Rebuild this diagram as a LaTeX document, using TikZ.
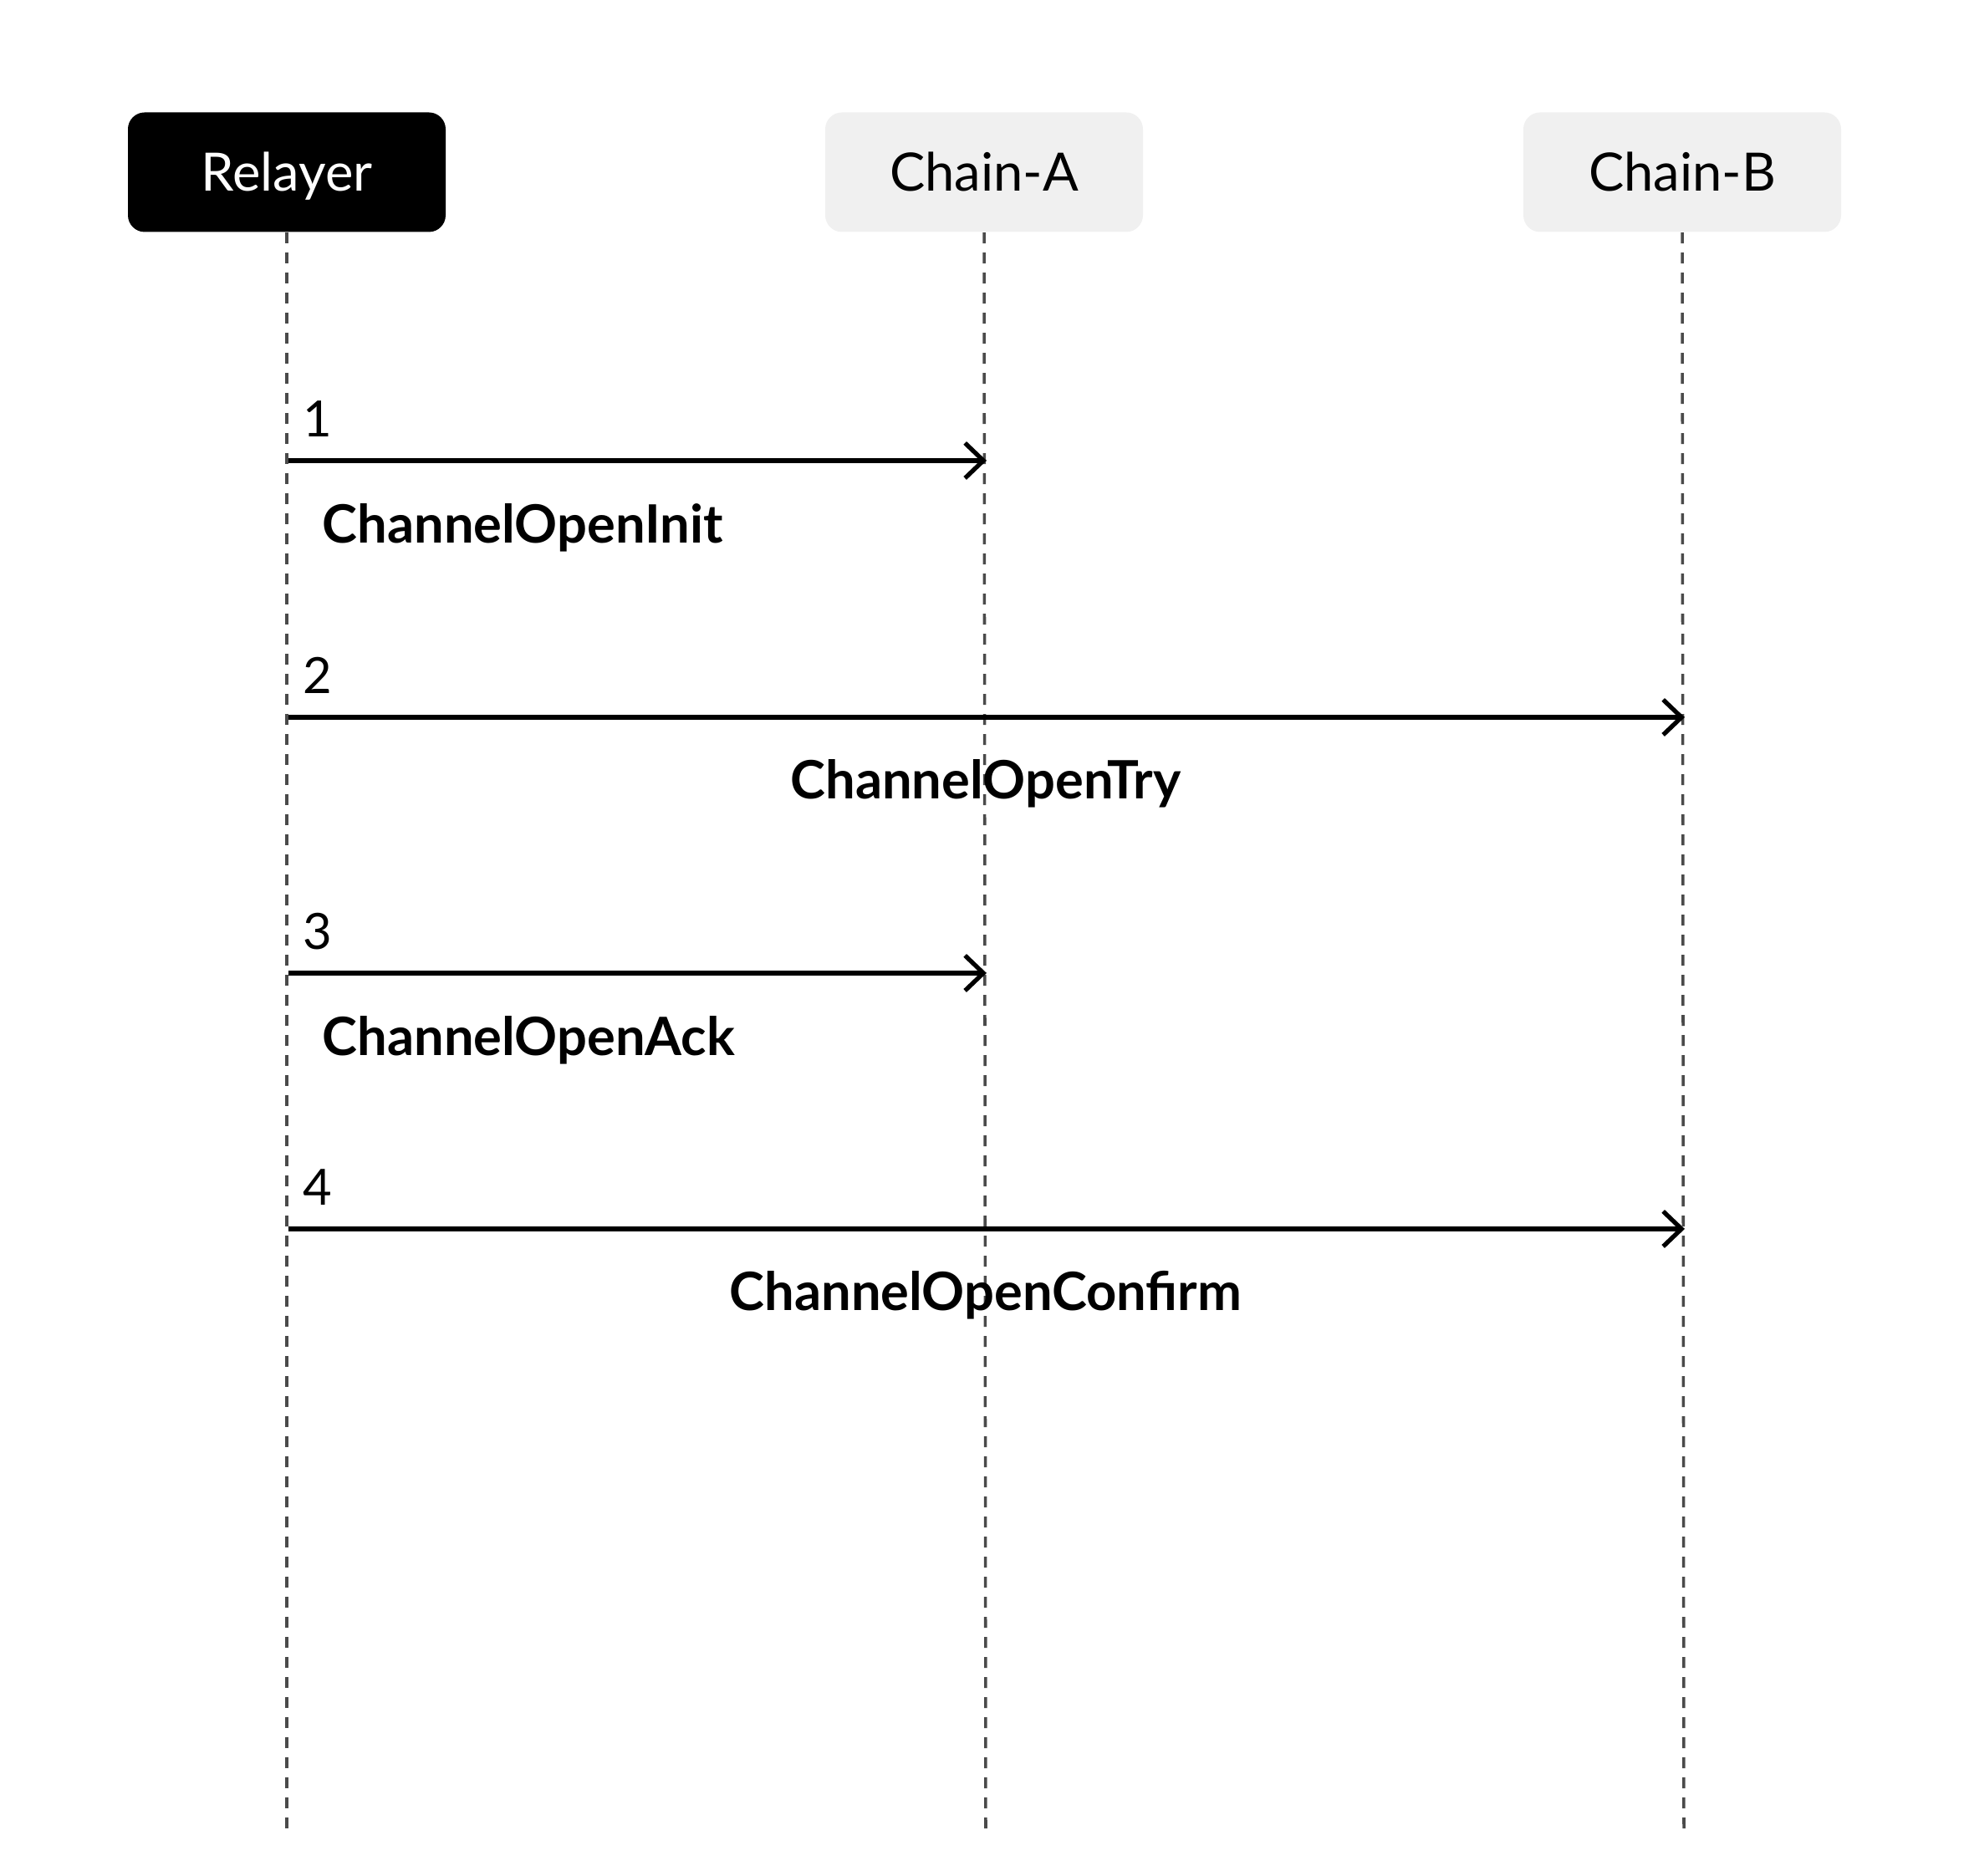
\documentclass[tikz,border=0pt]{standalone}
\usepackage{fontspec}
\setmainfont{Lato}
\usetikzlibrary{arrows.meta}

\definecolor{chainbg}{HTML}{F0F0F0}
\definecolor{lifegray}{HTML}{4A4A4A}

\begin{document}
\begin{tikzpicture}[
  actor/.style={
    rectangle, rounded corners=0.2cm,
    minimum width=3.8cm, minimum height=1.43cm,
    font=\fontsize{18}{21}\selectfont, inner sep=0pt,
    text height=13pt, text depth=0pt
  },
  relayerbox/.style={actor, fill=black, text=white},
  chainbox/.style={actor, fill=chainbg, text=black},
  life/.style={draw=lifegray, line width=1pt, dash pattern=on 0.13cm off 0.11cm},
  msgarr/.style={-{Straight Barb[length=2.2mm, width=4.2mm]}, line width=1.5pt},
  num/.style={font=\fontsize{17}{20}\selectfont, inner sep=0pt, anchor=base west},
  msg/.style={font=\bfseries\fontsize{18}{21}\selectfont, inner sep=0pt},
]
\useasboundingbox (0,0) rectangle (23.55,22.44);

% participants
\node[relayerbox] (relayer) at (3.43, 20.38) {Relayer};
\node[chainbox]   (chaina)  at (11.77, 20.38) {Chain-A};
\node[chainbox]   (chainb)  at (20.12, 20.38) {Chain-B};

% lifelines
\coordinate (relayerend) at (3.43, 0.48);
\coordinate (chainaend)  at (11.79, 0.48);
\coordinate (chainbend)  at (20.14, 0.48);
\draw[life] (relayer.south) -- (relayerend);
\draw[life] (chaina.south)  -- (chainaend);
\draw[life] (chainb.south)  -- (chainbend);

% message end points
\coordinate (r1) at (3.45, 16.93);
\coordinate (a1) at (11.80, 16.93);
\coordinate (r2) at (3.45, 13.86);
\coordinate (b2) at (20.15, 13.86);
\coordinate (r3) at (3.45, 10.80);
\coordinate (a3) at (11.80, 10.80);
\coordinate (r4) at (3.45, 7.74);
\coordinate (b4) at (20.15, 7.74);

\draw[msgarr] (r1) -- (a1);
\draw[msgarr] (r2) -- (b2);
\draw[msgarr] (r3) -- (a3);
\draw[msgarr] (r4) -- (b4);

% step numbers
\node[num] (n1) at (3.62, 17.21) {1};
\node[num] (n2) at (3.62, 14.14) {2};
\node[num] (n3) at (3.62, 11.08) {3};
\node[num] (n4) at (3.62, 8.02) {4};

% message names
\node[msg, anchor=west] (m1) at (3.85, 16.13) {ChannelOpenInit};
\node[msg]              (m2) at (11.79, 13.07) {ChannelOpenTry};
\node[msg, anchor=west] (m3) at (3.85, 10.00) {ChannelOpenAck};
\node[msg]              (m4) at (11.79, 6.95) {ChannelOpenConfirm};

\end{tikzpicture}
\end{document}
